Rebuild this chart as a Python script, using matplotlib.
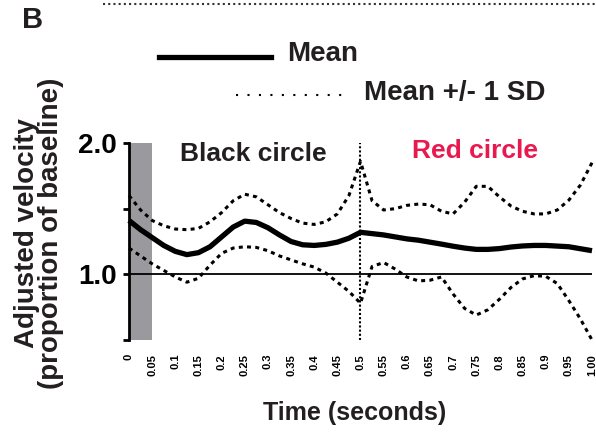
import matplotlib
matplotlib.use('Agg')
import matplotlib.pyplot as plt
from matplotlib.lines import Line2D

plt.rcParams['font.family'] = ['Liberation Sans', 'DejaVu Sans']
plt.rcParams['font.weight'] = 'bold'

# time points (s), read every 0.025 s
time = [0.0, 0.025, 0.05, 0.075, 0.1, 0.125, 0.15, 0.175, 0.2, 0.225,
        0.25, 0.275, 0.3, 0.325, 0.35, 0.375, 0.4, 0.425, 0.45, 0.475,
        0.5, 0.525, 0.55, 0.575, 0.6, 0.625, 0.65, 0.675, 0.7, 0.725,
        0.75, 0.775, 0.8, 0.825, 0.85, 0.875, 0.9, 0.925, 0.95, 0.975, 1.0]

mean_vel = [1.41, 1.34, 1.28, 1.22, 1.175, 1.15, 1.165, 1.21, 1.285, 1.36,
            1.405, 1.395, 1.355, 1.30, 1.25, 1.225, 1.22, 1.228, 1.245, 1.275,
            1.32, 1.31, 1.30, 1.285, 1.27, 1.26, 1.245, 1.23, 1.214, 1.20,
            1.19, 1.19, 1.196, 1.208, 1.216, 1.22, 1.22, 1.215, 1.21, 1.195, 1.18]

upper_sd = [1.60, 1.49, 1.41, 1.37, 1.345, 1.34, 1.35, 1.40, 1.47, 1.56,
            1.61, 1.59, 1.53, 1.47, 1.425, 1.39, 1.38, 1.40, 1.46, 1.60,
            1.86, 1.56, 1.49, 1.50, 1.525, 1.535, 1.53, 1.48, 1.46, 1.55,
            1.67, 1.67, 1.59, 1.52, 1.48, 1.46, 1.46, 1.49, 1.565, 1.68, 1.85]

lower_sd = [1.20, 1.14, 1.08, 1.03, 0.98, 0.94, 0.97, 1.07, 1.16, 1.20,
            1.21, 1.205, 1.18, 1.14, 1.11, 1.08, 1.055, 1.01, 0.94, 0.87,
            0.78, 1.06, 1.09, 1.04, 0.98, 0.95, 0.955, 0.98, 0.85, 0.74,
            0.69, 0.73, 0.81, 0.90, 0.965, 0.99, 0.985, 0.93, 0.80, 0.66, 0.50]

xtick_vals = [0.0, 0.05, 0.1, 0.15, 0.2, 0.25, 0.3, 0.35, 0.4, 0.45, 0.5,
              0.55, 0.6, 0.65, 0.7, 0.75, 0.8, 0.85, 0.9, 0.95, 1.0]
xtick_labels = ['0', '0.05', '0.1', '0.15', '0.2', '0.25', '0.3', '0.35', '0.4',
                '0.45', '0.5', '0.55', '0.6', '0.65', '0.7', '0.75', '0.8',
                '0.85', '0.9', '0.95', '1.00']
ytick_vals = [0.5, 1.0, 1.5, 2.0]
ytick_labels = ['', '1.0', '', '2.0']

W, H = 596, 432
fig = plt.figure(figsize=(W / 100, H / 100), dpi=100, facecolor='white')
ax = fig.add_axes([129 / W, (H - 340) / H, (592 - 129) / W, (340 - 143) / H])

# stimulus window
ax.axvspan(0, 0.05, color='#9a9a9e', lw=0, zorder=1)
ax.axhline(1.0, color='black', lw=1.3, zorder=2)
ax.axvline(0.5, color='black', lw=1.5, ls=(0, (1, 1)), zorder=2)

sd_style = dict(color='black', lw=2.2, ls=(0, (1.3, 1.4)), clip_on=False, zorder=3)
ax.plot(time, upper_sd, **sd_style)
ax.plot(time, lower_sd, **sd_style)
ax.plot(time, mean_vel, color='black', lw=3.8, solid_capstyle='butt',
        solid_joinstyle='round', clip_on=False, zorder=4)

ax.set_xlim(0, 1)
ax.set_ylim(0.5, 2.0)
for s in ['top', 'right', 'bottom']:
    ax.spines[s].set_visible(False)
ax.spines['left'].set_linewidth(2)
ax.spines['left'].set_zorder(5)

ax.set_yticks(ytick_vals)
ax.set_yticklabels(ytick_labels, fontsize=20, fontweight='bold')
ax.tick_params(axis='y', length=4.5, width=2, pad=4)
ax.set_xticks(xtick_vals)
ax.set_xticklabels(xtick_labels, rotation=90, fontsize=8, fontweight='bold')
ax.tick_params(axis='x', length=0, pad=10)

ax.text(0.268, 1.92, 'Black circle', fontsize=19, fontweight='bold',
        ha='center', va='center', color='#231f20')
ax.text(0.747, 1.94, 'Red circle', fontsize=19, fontweight='bold',
        ha='center', va='center', color='#e8194f')

fig.text(39 / W, 1 - 233 / H, 'Adjusted velocity\n(proportion of baseline)',
         rotation=90, fontsize=20, fontweight='bold', ha='center', va='center',
         linespacing=0.9, color='#231f20')
fig.text(355 / W, 1 - 413 / H, 'Time (seconds)', fontsize=18, fontweight='bold',
         ha='center', va='center', color='#231f20')
fig.text(22 / W, 1 - 20 / H, 'B', fontsize=21, fontweight='bold',
         ha='left', va='center', color='#231f20')

# legend drawn by hand in figure coords
fig.add_artist(Line2D([159 / W, 271 / W], [1 - 57 / H, 1 - 57 / H],
                      transform=fig.transFigure, color='black', lw=3.8))
fig.text(287 / W, 1 - 54 / H, 'Mean', fontsize=20, fontweight='bold',
         ha='left', va='center', color='#231f20')
fig.add_artist(Line2D([236 / W, 344 / W], [1 - 95 / H, 1 - 95 / H],
                      transform=fig.transFigure, color='black', lw=1.5,
                      ls=(0, (1, 4.5))))
fig.text(364 / W, 1 - 93 / H, 'Mean +/- 1 SD', fontsize=20, fontweight='bold',
         ha='left', va='center', color='#231f20')
fig.add_artist(Line2D([103 / W, 1.0], [1 - 4 / H, 1 - 4 / H],
                      transform=fig.transFigure, color='#333333', lw=1.5,
                      ls=(0, (1, 1.5))))

fig.savefig('out.png', dpi=100, facecolor='white')
